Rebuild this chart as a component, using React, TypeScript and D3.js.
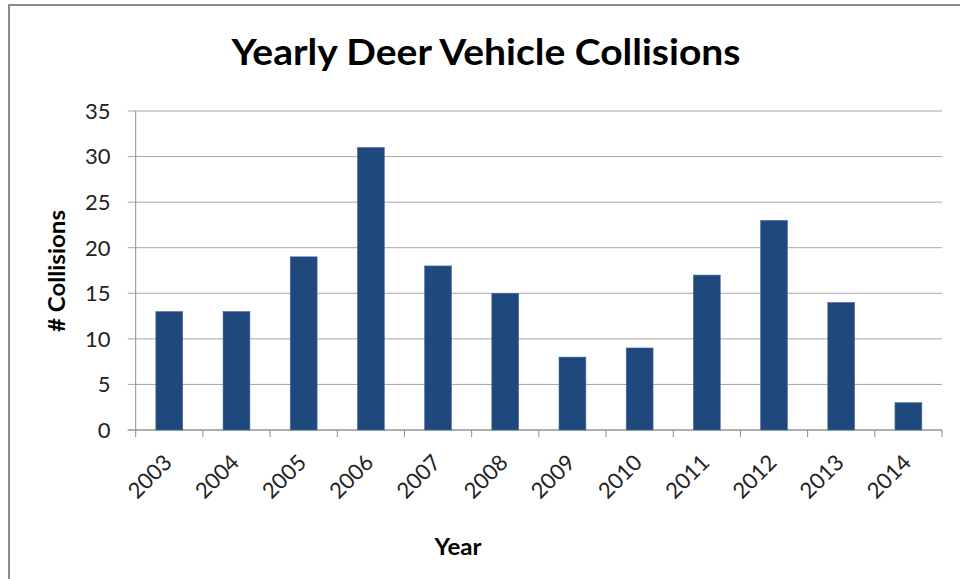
import React from "react";
import * as d3 from "d3";

const years = ["2003", "2004", "2005", "2006", "2007", "2008", "2009", "2010", "2011", "2012", "2013", "2014"];
const collisions = [13, 13, 19, 31, 18, 15, 8, 9, 17, 23, 14, 3];
const yTicks = [0, 5, 10, 15, 20, 25, 30, 35];
const titleText = "Yearly Deer Vehicle Collisions";
const xTitle = "Year";
const yTitle = "# Collisions";

const W = 960;
const H = 579;
const plot = { left: 135.7, right: 942, top: 111, bottom: 430 };
const FONT = "Lato, 'Open Sans', sans-serif";

export default function App() {
  const x = d3.scaleBand<string>().domain(years).range([plot.left, plot.right]).paddingInner(0).paddingOuter(0);
  const y = d3.scaleLinear().domain([0, 35]).range([plot.bottom, plot.top]);
  const bw = x.bandwidth() / 2.5;
  const boundaries = d3.range(years.length + 1).map((i) => plot.left + i * x.bandwidth());

  return (
    <svg width={W} height={H} style={{ position: "absolute", left: 0, top: 0, background: "#fff" }}>
      <rect x={9} y={5} width={1200} height={1200} fill="#fff" stroke="#8c8c8c" strokeWidth={2} />
      <text x={486} y={65} textAnchor="middle" fontFamily={FONT} fontWeight="bold" fontSize={37} textLength={509} lengthAdjust="spacingAndGlyphs" fill="#000">
        {titleText}
      </text>
      {yTicks.map((t) => (
        <g key={t}>
          <line x1={plot.left - 8} x2={plot.right} y1={y(t)} y2={y(t)} stroke="#a6a6a6" strokeWidth={1} />
          <text x={110.5} y={y(t)} dy="0.36em" textAnchor="end" fontFamily={FONT} fontSize={22} fill="#222">
            {t}
          </text>
        </g>
      ))}
      <line x1={plot.left} x2={plot.left} y1={plot.top} y2={plot.bottom} stroke="#8c8c8c" strokeWidth={1} />
      <line x1={plot.left - 8} x2={plot.right} y1={plot.bottom} y2={plot.bottom} stroke="#8c8c8c" strokeWidth={1} />
      {boundaries.map((b, i) => (
        <line key={i} x1={b} x2={b} y1={plot.bottom} y2={plot.bottom + 7} stroke="#8c8c8c" strokeWidth={1} />
      ))}
      {years.map((yr, i) => {
        const cx = (x(yr) as number) + x.bandwidth() / 2;
        return (
          <g key={yr}>
            <rect x={cx - bw / 2} y={y(collisions[i])} width={bw} height={plot.bottom - y(collisions[i])} fill="#1F497D" stroke="#4a6fa0" strokeWidth={0.6} />
            <text transform={`translate(${cx + 4},${464}) rotate(-45)`} textAnchor="end" fontFamily={FONT} fontSize={22} fill="#222">
              {yr}
            </text>
          </g>
        );
      })}
      <text x={458} y={555} textAnchor="middle" fontFamily={FONT} fontWeight="bold" fontSize={23} textLength={47} lengthAdjust="spacingAndGlyphs" fill="#000">
        {xTitle}
      </text>
      <text transform={`translate(65,271) rotate(-90)`} textAnchor="middle" fontFamily={FONT} fontWeight="bold" fontSize={22} textLength={122} lengthAdjust="spacingAndGlyphs" fill="#000">
        {yTitle}
      </text>
    </svg>
  );
}
